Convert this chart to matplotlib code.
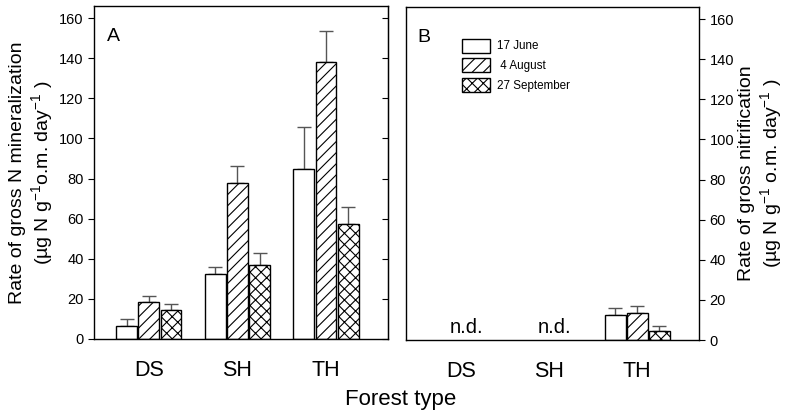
import numpy as np
import matplotlib
matplotlib.use("Agg")
import matplotlib.pyplot as plt

plt.rcParams['font.family'] = ['Liberation Sans', 'DejaVu Sans']
plt.rcParams['mathtext.default'] = 'regular'
plt.rcParams['hatch.linewidth'] = 0.8

# --- data ---
forest_types = ["DS", "SH", "TH"]
dates = ["17 June", " 4 August", "27 September"]
hatches = ["", "///", "xxx"]

# gross N mineralization (panel A)
mineral_mean = [[6.3, 32.4, 84.7],     # 17 June
                [18.3, 77.6, 138.0],   # 4 August
                [14.3, 37.0, 57.1]]    # 27 September
mineral_err = [[3.7, 3.5, 20.8],
               [3.0, 8.4, 15.3],
               [3.0, 5.9, 8.5]]

# gross nitrification (panel B), n.d. for DS and SH
nitri_mean = [[0, 0, 12.4],
              [0, 0, 13.6],
              [0, 0, 4.6]]
nitri_err = [[0, 0, 3.8],
             [0, 0, 3.3],
             [0, 0, 2.4]]
nitri_nd = [True, True, False]

x = np.arange(len(forest_types))
w = 0.25
bw = 0.235

fig = plt.figure(figsize=(7.85, 4.12), dpi=100)
axA = fig.add_axes([94/785, 73/412, 294/785, 333/412])
axB = fig.add_axes([406/785, 72/412, 293/785, 333/412])


def draw_bars(ax, means, errs, skip=None):
    for i in range(3):
        xs = x + (i - 1) * w
        m = np.array(means[i], dtype=float)
        e = np.array(errs[i], dtype=float)
        keep = np.ones(len(x), bool) if skip is None else ~np.array(skip)
        ax.bar(xs[keep], m[keep], bw, color="white", edgecolor="black",
               linewidth=1, hatch=hatches[i], label=dates[i], zorder=2)
        ax.errorbar(xs[keep], m[keep], yerr=[np.zeros(keep.sum()), e[keep]],
                    fmt="none", ecolor="#555555", elinewidth=1, capsize=5,
                    capthick=1, zorder=1)


draw_bars(axA, mineral_mean, mineral_err)
draw_bars(axB, nitri_mean, nitri_err, skip=nitri_nd)

for i, nd in enumerate(nitri_nd):
    if nd:
        axB.text(x[i] + 0.06, 1.5, "n.d.", ha="center", va="bottom", fontsize=14.5)

for ax in (axA, axB):
    ax.set_xlim(-0.62, 2.7)
    ax.set_ylim(0, 166)
    ax.set_xticks(x)
    ax.set_xticklabels(forest_types, fontsize=15.5)
    ax.tick_params(axis="x", length=0, pad=15)
    ax.set_yticks(np.arange(0, 161, 20))
    for s in ax.spines.values():
        s.set_linewidth(1)

axA.tick_params(axis="y", labelsize=10.5, length=4, direction="out")
axA_r = axA.secondary_yaxis("right")
axA_r.set_yticks(np.arange(0, 161, 20))
axA_r.tick_params(axis="y", direction="in", length=4, labelright=False)
axA.set_ylabel("Rate of gross N mineralization\n(µg N g$^{-1}$o.m. day$^{-1}$ )",
               fontsize=14, linespacing=1.15, labelpad=3)

axB.yaxis.tick_right()
axB.tick_params(axis="y", labelsize=10.5, length=4, direction="out")
axB.yaxis.set_label_position("right")
axB.set_ylabel("Rate of gross nitrification\n(µg N g$^{-1}$ o.m. day$^{-1}$ )",
               fontsize=14, linespacing=1.15, rotation=90, labelpad=3)

axA.text(0.045, 0.935, "A", transform=axA.transAxes, fontsize=14, va="top")
axB.text(0.04, 0.935, "B", transform=axB.transAxes, fontsize=14, va="top")

axB.legend(loc="upper left", bbox_to_anchor=(0.19, 0.905), frameon=False,
           fontsize=8.4, handlelength=2.4, handleheight=1.47,
           labelspacing=0.5, handletextpad=0.6, borderpad=0, borderaxespad=0)

fig.text(0.51, 0.03, "Forest type", ha="center", va="center", fontsize=16)

fig.savefig("out.png", dpi=100)
